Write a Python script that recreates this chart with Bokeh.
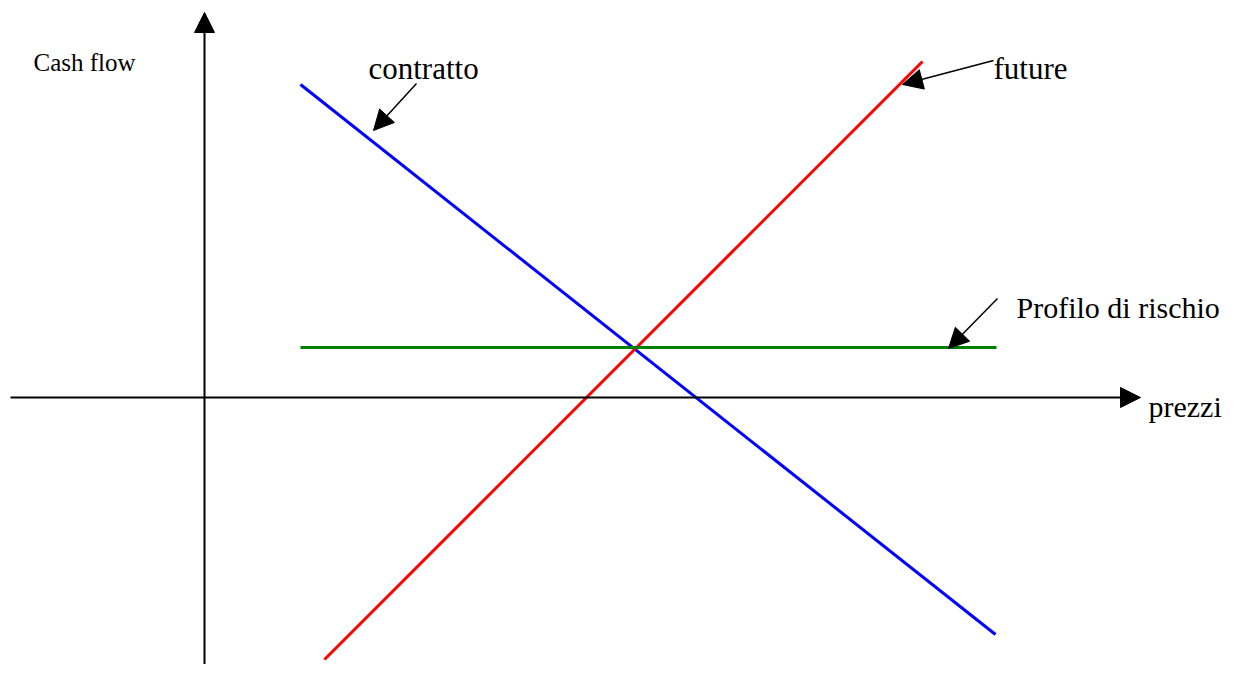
from bokeh.plotting import figure
from bokeh.models import Range1d, Arrow, NormalHead, Label
from bokeh.embed import file_html
from bokeh.resources import INLINE

# Diagram data (units: price on x, cash flow on y; origin at axis crossing)
contratto_x = [96, 791]
contratto_y = [313, -237]
future_x = [120, 718]
future_y = [-262, 336]
profilo_x = [96, 792]
profilo_y = [50, 50]

# axis extents
xaxis_x = [-194, 936]
yaxis_y = [-290, 385]

# annotation arrows: (x_start, y_start, x_end, y_end)
ann_contratto = [212, 314, 169, 267]
ann_future = [789, 337, 698, 313]
ann_profilo = [793, 99, 744, 49]

# labels
label_texts = ["Cash flow", "contratto", "future", "Profilo di rischio", "prezzi"]
label_x = [-171, 164, 789, 812, 944]
label_y = [335, 329, 329, 90, -9]
label_sizes = ["25px", "31px", "31px", "30px", "30px"]

FONT = "Liberation Serif"

p = figure(width=1224, height=664, output_backend="svg", toolbar_location=None,
           x_range=Range1d(-204, 1020), y_range=Range1d(-267, 397),
           x_axis_type=None, y_axis_type=None, min_border=0,
           background_fill_color="white", border_fill_color="white")
p.outline_line_color = None
p.grid.visible = False

# axes with arrow heads
p.add_layout(Arrow(end=NormalHead(size=20, fill_color="black", line_color="black", line_width=1),
                   x_start=xaxis_x[0], y_start=0, x_end=xaxis_x[1], y_end=0,
                   line_color="black", line_width=2))
p.add_layout(Arrow(end=NormalHead(size=20, fill_color="black", line_color="black", line_width=1),
                   x_start=0, y_start=yaxis_y[0], x_end=0, y_end=yaxis_y[1],
                   line_color="black", line_width=2))

# lines
p.line(contratto_x, contratto_y, line_color="#0000ff", line_width=3)
p.line(future_x, future_y, line_color="#ff0000", line_width=3)
p.line(profilo_x, profilo_y, line_color="#008000", line_width=3)

# annotation arrows
for a in (ann_contratto, ann_future, ann_profilo):
    p.add_layout(Arrow(end=NormalHead(size=20, fill_color="black", line_color="black", line_width=1),
                       x_start=a[0], y_start=a[1], x_end=a[2], y_end=a[3],
                       line_color="black", line_width=1.5))

for t, x, y, s in zip(label_texts, label_x, label_y, label_sizes):
    p.add_layout(Label(x=x, y=y, text=t, text_font=FONT, text_font_size=s,
                       text_baseline="middle", text_align="left", text_color="black"))

open("out.html", "w").write(file_html(p, INLINE))
